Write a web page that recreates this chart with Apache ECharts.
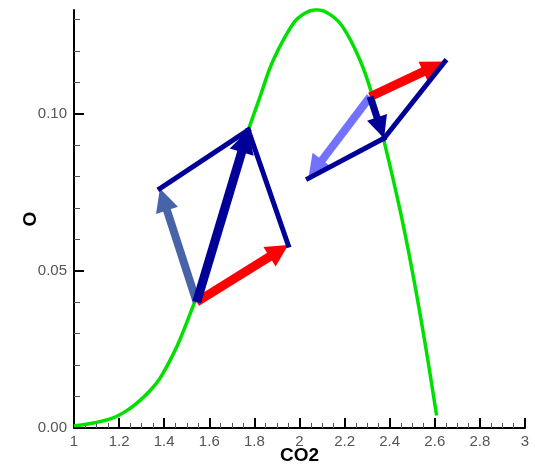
<!DOCTYPE html>
<html>
<head>
<meta charset="utf-8">
<script src="https://cdn.jsdelivr.net/npm/echarts@6/dist/echarts.min.js"></script>
<style>
html, body { margin: 0; padding: 0; background: #fff; }
#main { width: 535px; height: 465px; }
</style>
</head>
<body>
<div id="main"></div>
<script>
// curve O vs CO2
var curveX = [1.000, 1.086, 1.174, 1.248, 1.293, 1.340, 1.381, 1.440, 1.485, 1.529, 1.603, 1.656, 1.714, 1.773, 1.825, 1.884, 1.973, 2.024, 2.076, 2.135, 2.194, 2.268, 2.320, 2.375, 2.446, 2.505, 2.557, 2.608]
var curveY = [0.0007, 0.0016, 0.0032, 0.0062, 0.0088, 0.0121, 0.0158, 0.0235, 0.0308, 0.0389, 0.0518, 0.0668, 0.0821, 0.0948, 0.1054, 0.1171, 0.1288, 0.1320, 0.1331, 0.1316, 0.1274, 0.1171, 0.1065, 0.0913, 0.0693, 0.0481, 0.0269, 0.0040]

// vector diagram points [CO2, O]
var leftBase = [1.544, 0.0401]
var leftRed = [1.950, 0.0582]
var leftSteel = [1.381, 0.0762]
var leftSum = [1.773, 0.0948]
var rightBase = [2.313, 0.1054]
var rightRed = [2.645, 0.1166]
var rightLight = [2.039, 0.0794]
var rightSum = [2.375, 0.0922]

// arrows (from -> to)
var arrowFrom = [leftBase, leftBase, rightBase, rightBase, leftBase, rightBase]
var arrowTo = [leftSteel, leftRed, rightLight, rightRed, leftSum, rightSum]
// parallelogram edges
var edgeFrom = [leftSteel, leftSum, rightRed, rightSum]
var edgeTo = [leftSum, leftRed, rightSum, rightLight]

// ticks
var xMin = 1, xMax = 3, xStep = 0.2
var yMax = 0.133
var yMajorTicks = [0, 0.05, 0.10]
var yMinorTicks = [0.01, 0.02, 0.03, 0.04, 0.06, 0.07, 0.08, 0.09, 0.11, 0.12, 0.13]

// styles
var arrowColors = ['#4863a8', '#ff0000', '#7272ff', '#ff0000', '#000099', '#000099']
var arrowShaft = [8, 9, 8, 9, 9, 7]
var arrowHeadLen = [23, 22, 23, 24, 23, 22]
var arrowHeadWid = [23, 23, 24, 22, 25, 21]
var edgeColor = '#000099'
var edgeWidth = 5

var gridLeft = 74, gridRight = 10
var gridWidth = 535 - gridLeft - gridRight

var curveData = []
for(var i = 0; i < curveX.length; i ++) {
	curveData.push([curveX[i], curveY[i]])
}

var arrowData = []
for(var i = 0; i < arrowFrom.length; i ++) {
	arrowData.push([arrowFrom[i][0], arrowFrom[i][1], arrowTo[i][0], arrowTo[i][1], i])
}

var edgeData = []
for(var i = 0; i < edgeFrom.length; i ++) {
	edgeData.push([edgeFrom[i][0], edgeFrom[i][1], edgeTo[i][0], edgeTo[i][1], i])
}

function renderArrow(params, api) {
	var k = api.value(4)
	var p1 = api.coord([api.value(0), api.value(1)])
	var p2 = api.coord([api.value(2), api.value(3)])
	var dx = p2[0] - p1[0], dy = p2[1] - p1[1]
	var len = Math.sqrt(dx * dx + dy * dy)
	var ux = dx / len, uy = dy / len
	var nx = -uy, ny = ux
	var hl = arrowHeadLen[k], hw = arrowHeadWid[k] / 2, sw = arrowShaft[k] / 2
	var bx = p2[0] - ux * hl, by = p2[1] - uy * hl
	var ex = bx + ux * 2, ey = by + uy * 2
	var shaft = [
		[p1[0] + nx * sw, p1[1] + ny * sw],
		[ex + nx * sw, ey + ny * sw],
		[ex - nx * sw, ey - ny * sw],
		[p1[0] - nx * sw, p1[1] - ny * sw]
	]
	var head = [
		[p2[0], p2[1]],
		[bx + nx * hw, by + ny * hw],
		[bx - nx * hw, by - ny * hw]
	]
	return {
		type: 'group',
		children: [
			{ type: 'polygon', shape: { points: shaft }, style: { fill: arrowColors[k] } },
			{ type: 'polygon', shape: { points: head }, style: { fill: arrowColors[k] } }
		]
	}
}

function renderEdge(params, api) {
	var p1 = api.coord([api.value(0), api.value(1)])
	var p2 = api.coord([api.value(2), api.value(3)])
	return {
		type: 'line',
		shape: { x1: p1[0], y1: p1[1], x2: p2[0], y2: p2[1] },
		style: { stroke: edgeColor, lineWidth: edgeWidth, lineCap: 'square' }
	}
}

var labelStyle = {
	color: '#555',
	fontFamily: 'Liberation Sans',
	fontSize: 15
}

var chart = echarts.init(document.getElementById('main'))
var option = {
	backgroundColor: '#fff',
	animation: false,
	grid: { left: gridLeft, right: gridRight, top: 10, bottom: 37, outerBoundsMode: 'none' },
	xAxis: {
		type: 'value',
		min: xMin,
		max: xMax,
		interval: xStep,
		name: 'CO2',
		nameLocation: 'middle',
		nameGap: 18,
		nameMoveOverlap: false,
		nameTextStyle: { color: '#000', fontFamily: 'Liberation Sans', fontWeight: 'bold', fontSize: 19 },
		axisLine: { lineStyle: { color: '#000', width: 2 } },
		axisTick: { inside: true, length: 10, lineStyle: { color: '#000', width: 2 } },
		minorTick: { show: true, splitNumber: 4, length: 5, lineStyle: { color: '#555', width: 1 } },
		axisLabel: Object.assign({ margin: 6 }, labelStyle),
		splitLine: { show: false }
	},
	yAxis: [{
		type: 'value',
		min: 0,
		max: yMax,
		position: 'left',
		name: 'O',
		nameLocation: 'middle',
		nameRotate: 90,
		nameGap: 34,
		nameMoveOverlap: false,
		nameTextStyle: { color: '#000', fontFamily: 'Liberation Sans', fontWeight: 'bold', fontSize: 19 },
		axisLine: { show: true, lineStyle: { color: '#000', width: 2 } },
		axisTick: { show: true, inside: true, length: 10, customValues: yMajorTicks, lineStyle: { color: '#000', width: 2 } },
		axisLabel: Object.assign({
			margin: 7,
			customValues: yMajorTicks,
			formatter: function(v) { return v.toFixed(2) }
		}, labelStyle),
		splitLine: { show: false }
	}, {
		type: 'value',
		min: 0,
		max: yMax,
		position: 'right',
		offset: -gridWidth,
		axisLine: { show: false },
		axisTick: { show: true, inside: false, length: 6, customValues: yMinorTicks, lineStyle: { color: '#555', width: 1 } },
		axisLabel: { show: false },
		splitLine: { show: false }
	}],
	series: [{
		type: 'line',
		data: curveData,
		smooth: 0.4,
		showSymbol: false,
		lineStyle: { color: '#00e000', width: 3.5 },
		z: 2
	}, {
		type: 'custom',
		renderItem: renderArrow,
		data: arrowData,
		encode: { x: [0, 2], y: [1, 3] },
		z: 3
	}, {
		type: 'custom',
		renderItem: renderEdge,
		data: edgeData,
		encode: { x: [0, 2], y: [1, 3] },
		z: 4
	}]
}
chart.setOption(option)
</script>
</body>
</html>
